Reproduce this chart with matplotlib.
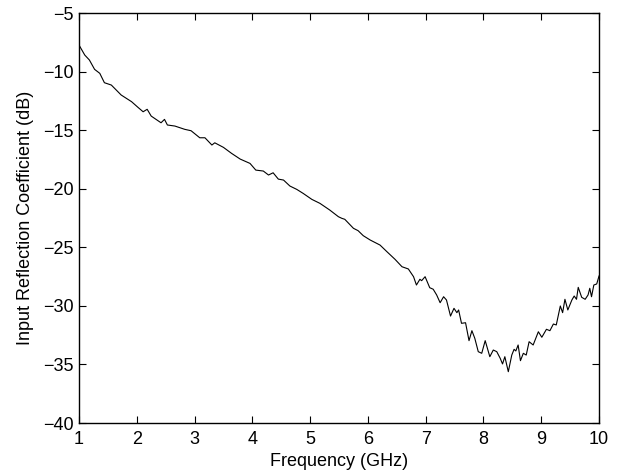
import matplotlib
matplotlib.use("Agg")
import matplotlib.pyplot as plt

freq_ghz = [1.00, 1.10, 1.18, 1.27, 1.36, 1.44, 1.56, 1.73, 1.91, 2.02, 2.11, 2.18, 2.25,
            2.42, 2.48, 2.53, 2.66, 2.83, 2.94, 3.09, 3.18, 3.30, 3.35, 3.50, 3.64, 3.79,
            3.96, 4.06, 4.19, 4.28, 4.36, 4.45, 4.54, 4.65, 4.77, 4.88, 5.03, 5.17, 5.34,
            5.49, 5.55, 5.60, 5.75, 5.83, 5.92, 6.04, 6.21, 6.33, 6.47, 6.59, 6.70, 6.79,
            6.84, 6.90, 6.93, 6.99, 7.07, 7.13, 7.19, 7.25, 7.31, 7.36, 7.43, 7.49, 7.54,
            7.57, 7.62, 7.69, 7.75, 7.80, 7.85, 7.91, 7.97, 8.03, 8.11, 8.17, 8.23, 8.29,
            8.33, 8.37, 8.43, 8.49, 8.53, 8.56, 8.60, 8.64, 8.69, 8.74, 8.79, 8.86, 8.95,
            9.01, 9.09, 9.15, 9.21, 9.26, 9.33, 9.37, 9.41, 9.46, 9.53, 9.57, 9.61, 9.64,
            9.70, 9.76, 9.81, 9.84, 9.87, 9.91, 9.96, 10.00]
s11_db = [-7.73, -8.59, -9.01, -9.81, -10.15, -10.95, -11.15, -12.00, -12.57, -13.05, -13.43,
          -13.22, -13.80, -14.37, -14.08, -14.56, -14.65, -14.93, -15.05, -15.65, -15.65,
          -16.27, -16.08, -16.47, -16.98, -17.47, -17.84, -18.41, -18.49, -18.83, -18.64,
          -19.18, -19.26, -19.77, -20.06, -20.40, -20.91, -21.25, -21.82, -22.39, -22.53,
          -22.61, -23.38, -23.58, -24.01, -24.38, -24.81, -25.38, -26.03, -26.66, -26.85,
          -27.51, -28.22, -27.73, -27.85, -27.51, -28.45, -28.58, -29.07, -29.73, -29.22,
          -29.50, -30.87, -30.21, -30.58, -30.35, -31.49, -31.44, -32.97, -32.12, -32.77,
          -33.91, -34.05, -32.97, -34.34, -33.77, -33.91, -34.48, -34.96, -34.34, -35.62,
          -34.20, -33.71, -33.85, -33.34, -34.68, -34.05, -34.20, -33.06, -33.34, -32.21,
          -32.68, -32.00, -32.12, -31.55, -31.63, -30.01, -30.58, -29.44, -30.35, -29.50,
          -29.16, -29.44, -28.42, -29.27, -29.44, -29.07, -28.50, -29.22, -28.22, -28.13,
          -27.45]

x_ticks = [1, 2, 3, 4, 5, 6, 7, 8, 9, 10]
y_ticks = [-40, -35, -30, -25, -20, -15, -10, -5]

plt.rcParams['font.family'] = ['Liberation Sans', 'DejaVu Sans']
fig = plt.figure(figsize=(6.18, 4.73), dpi=100)
ax = fig.add_axes([0.1278, 0.1057, 0.8415, 0.8668])
ax.plot(freq_ghz, s11_db, color='black', linewidth=0.8)
ax.set_xlim(1, 10)
ax.set_ylim(-40, -5)
ax.set_xticks(x_ticks)
ax.set_yticks(y_ticks)
ax.set_xticklabels([str(t) for t in x_ticks])
ax.set_yticklabels([("\u2212" + str(-t)) if t < 0 else str(t) for t in y_ticks])
ax.tick_params(direction='in', length=5, width=0.8, top=True, right=True,
               labelsize=13, color='black')
ax.tick_params(axis='x', pad=5.5)
ax.tick_params(axis='y', pad=4)
for sp in ax.spines.values():
    sp.set_linewidth(1.0)
ax.set_xlabel('Frequency (GHz)', fontsize=13, labelpad=3.5)
ax.set_ylabel('Input Reflection Coefficient (dB)', fontsize=13, labelpad=6)
fig.savefig('out.png', dpi=100)
